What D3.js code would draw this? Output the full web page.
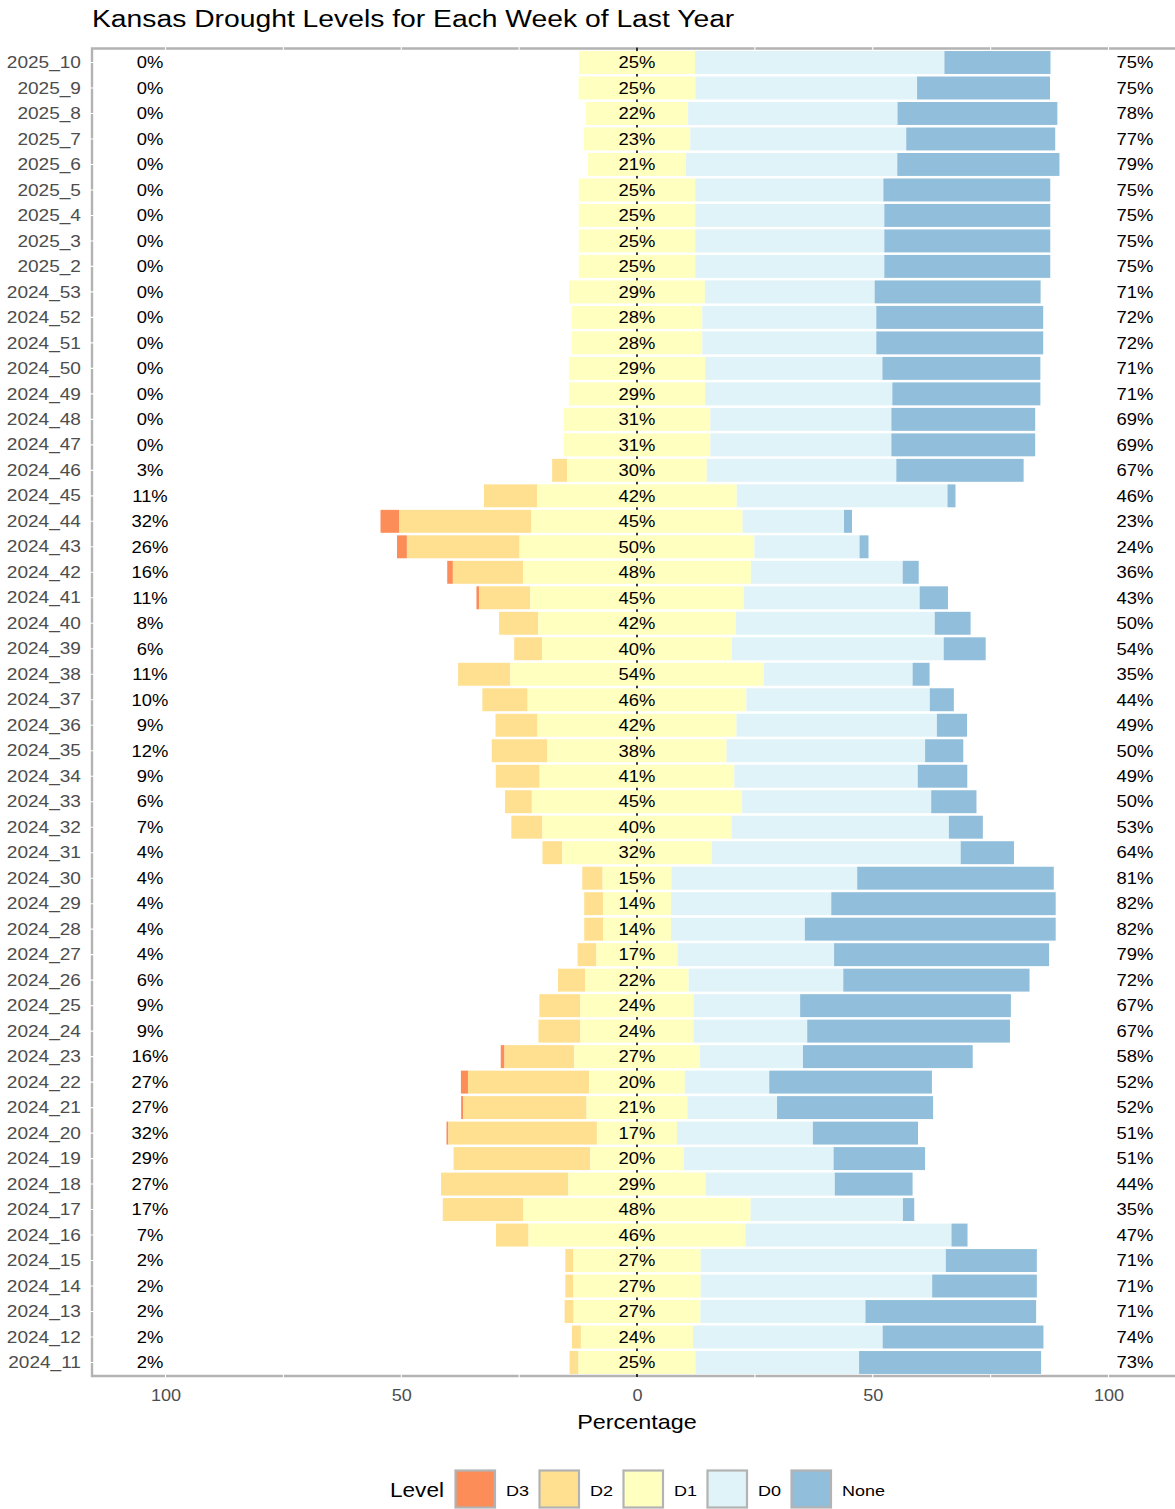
<!DOCTYPE html>
<html>
<head>
<meta charset="utf-8">
<script src="https://cdn.jsdelivr.net/npm/d3@7/dist/d3.min.js"></script>
<style>
	body { margin: 0; background: #fff; }
	svg { display: block; font-family: "Liberation Sans", Arial, Helvetica, sans-serif; }
</style>
</head>
<body>
<div id="chart"></div>
<script>
///////////////////////////////////////////////////////////////////////////
//////////////////////////// data /////////////////////////////////////////
///////////////////////////////////////////////////////////////////////////

// weeks, top to bottom
const weeks = [
	"2025_10", "2025_9", "2025_8", "2025_7", "2025_6", "2025_5", "2025_4", "2025_3", "2025_2",
	"2024_53", "2024_52", "2024_51", "2024_50", "2024_49", "2024_48", "2024_47", "2024_46",
	"2024_45", "2024_44", "2024_43", "2024_42", "2024_41", "2024_40", "2024_39", "2024_38",
	"2024_37", "2024_36", "2024_35", "2024_34", "2024_33", "2024_32", "2024_31", "2024_30",
	"2024_29", "2024_28", "2024_27", "2024_26", "2024_25", "2024_24", "2024_23", "2024_22",
	"2024_21", "2024_20", "2024_19", "2024_18", "2024_17", "2024_16", "2024_15", "2024_14",
	"2024_13", "2024_12", "2024_11"
];

// percent of area in each level (same order as weeks)
const d3Pct = [
	0, 0, 0, 0, 0, 0, 0, 0, 0,
	0, 0, 0, 0, 0, 0, 0, 0,
	0, 4.0, 2.1, 1.2, 0.6, 0, 0, 0,
	0, 0, 0, 0, 0, 0, 0, 0,
	0, 0, 0, 0, 0, 0, 0.8, 1.5,
	0.4, 0.4, 0, 0, 0, 0, 0, 0,
	0, 0, 0
];
const d2Pct = [
	0, 0, 0, 0, 0, 0, 0, 0, 0,
	0, 0, 0, 0, 0, 0, 0, 3.2,
	11.3, 28.0, 23.9, 14.9, 10.8, 8.3, 5.9, 11.1,
	9.6, 8.9, 11.8, 9.3, 5.7, 6.6, 4.2, 4.3,
	4.0, 4.0, 4.0, 5.8, 8.7, 8.9, 14.8, 25.7,
	26.2, 31.5, 29.0, 27.0, 17.1, 6.9, 1.7, 1.7,
	1.9, 1.9, 1.9
];
const d1Pct = [
	24.6, 24.8, 21.7, 22.6, 20.8, 24.7, 24.7, 24.7, 24.7,
	28.8, 27.7, 27.7, 28.9, 28.9, 31.1, 31.1, 29.6,
	42.3, 44.8, 49.8, 48.3, 45.3, 41.9, 40.3, 53.7,
	46.4, 42.2, 38.0, 41.3, 44.6, 40.1, 31.7, 14.6,
	14.4, 14.4, 17.2, 21.9, 24.0, 24.0, 26.6, 20.3,
	21.4, 17.0, 19.8, 29.1, 48.2, 46.0, 27.0, 27.0,
	26.9, 23.8, 24.8
];
const d0Pct = [
	52.9, 47.0, 44.4, 45.8, 44.8, 39.9, 40.1, 40.1, 40.1,
	36.0, 36.9, 36.9, 37.6, 39.7, 38.4, 38.4, 40.2,
	44.7, 21.5, 22.3, 32.2, 37.3, 42.2, 44.9, 31.6,
	38.9, 42.5, 42.1, 38.9, 40.1, 46.1, 52.8, 39.4,
	34.0, 28.4, 33.2, 32.8, 22.6, 24.1, 21.9, 17.9,
	19.0, 28.8, 31.8, 27.4, 32.3, 43.7, 52.0, 49.1,
	35.0, 40.2, 34.7
];
const nonePct = [
	22.5, 28.2, 33.9, 31.6, 34.4, 35.4, 35.2, 35.2, 35.2,
	35.2, 35.4, 35.4, 33.5, 31.4, 30.5, 30.5, 27.0,
	1.7, 1.7, 1.9, 3.4, 6.0, 7.6, 8.9, 3.6,
	5.1, 6.4, 8.1, 10.5, 9.6, 7.2, 11.3, 41.7,
	47.6, 53.2, 45.6, 39.5, 44.7, 43.0, 36.0, 34.5,
	33.1, 22.3, 19.4, 16.5, 2.4, 3.4, 19.3, 22.2,
	36.2, 34.1, 38.6
];

const levels = ["D3", "D2", "D1", "D0", "None"];
const levelColors = ["#fc8d59", "#fee090", "#ffffbf", "#e0f3f8", "#91bfdb"];
const xTicks = [-100, -50, 0, 50, 100];
const gridTicks = [-125, -100, -75, -50, -25, 0, 25, 50, 75, 100, 125];

///////////////////////////////////////////////////////////////////////////
//////////////////////////// Set up svg ///////////////////////////////////
///////////////////////////////////////////////////////////////////////////

const width = 1175;
const height = 1509;
const panel = { left: 92, right: 1182, top: 48.5, bottom: 1376 };

const svg = d3
	.select("#chart")
	.append("svg")
	.attr("width", width)
	.attr("height", height);

const xScale = d3.scaleLinear().domain([-100, 100]).range([165.5, 1108.5]);
const yScale = d3.scalePoint().domain(weeks).range([62.5, 1362.5]);
const barH = yScale.step() * 0.9;

// stack each row around the middle of D1
const rows = weeks.map((w, i) => {
	const half = d1Pct[i] / 2;
	const segs = [
		{ level: "D3", x0: -half - d2Pct[i] - d3Pct[i], x1: -half - d2Pct[i] },
		{ level: "D2", x0: -half - d2Pct[i], x1: -half },
		{ level: "D1", x0: -half, x1: half },
		{ level: "D0", x0: half, x1: half + d0Pct[i] },
		{ level: "None", x0: half + d0Pct[i], x1: half + d0Pct[i] + nonePct[i] }
	];
	return {
		week: w,
		segs: segs.filter((s) => s.x1 - s.x0 > 0),
		left: Math.round(d3Pct[i] + d2Pct[i]),
		mid: Math.round(d1Pct[i]),
		right: Math.round(d0Pct[i] + nonePct[i])
	};
});

const color = d3.scaleOrdinal().domain(levels).range(levelColors);

// the original text is a bit wider than Liberation Sans, stretch it
function stretchedText(parent, x, y, sx) {
	return parent.append("text")
		.attr("transform", `translate(${x},${y}) scale(${sx},1)`);
}

///////////////////////////////////////////////////////////////////////////
//////////////////////////// panel ////////////////////////////////////////
///////////////////////////////////////////////////////////////////////////

// border (left, top, bottom)
svg.append("path")
	.attr("d", `M${panel.right},${panel.top}H${panel.left}V${panel.bottom}H${panel.right}`)
	.attr("fill", "none")
	.attr("stroke", "#b3b3b3")
	.attr("stroke-width", 2.4);

// white grid lines, only show where they cross the border
svg.append("g")
	.selectAll("line")
	.data(gridTicks)
	.join("line")
	.attr("x1", (d) => xScale(d))
	.attr("x2", (d) => xScale(d))
	.attr("y1", panel.top - 2)
	.attr("y2", panel.bottom + 2)
	.attr("stroke", "#fff")
	.attr("stroke-width", 1.1);

svg.append("g")
	.selectAll("line")
	.data(weeks)
	.join("line")
	.attr("x1", panel.left - 2)
	.attr("x2", panel.right)
	.attr("y1", (d) => yScale(d))
	.attr("y2", (d) => yScale(d))
	.attr("stroke", "#fff")
	.attr("stroke-width", 1.1);

// zero line sits under the bars
svg.append("line")
	.attr("x1", xScale(0))
	.attr("x2", xScale(0))
	.attr("y1", panel.top - 1)
	.attr("y2", panel.bottom + 1)
	.attr("stroke", "#000")
	.attr("stroke-width", 1.6);

///////////////////////////////////////////////////////////////////////////
//////////////////////////// bars /////////////////////////////////////////
///////////////////////////////////////////////////////////////////////////

const rowG = svg.append("g")
	.selectAll("g")
	.data(rows)
	.join("g")
	.attr("transform", (d) => `translate(0,${yScale(d.week)})`);

rowG.selectAll("rect")
	.data((d) => d.segs)
	.join("rect")
	.attr("x", (d) => xScale(d.x0))
	.attr("width", (d) => xScale(d.x1) - xScale(d.x0))
	.attr("y", -barH / 2)
	.attr("height", barH)
	.attr("fill", (d) => color(d.level));

// percent labels
const labelStyle = (sel) => sel
	.attr("dy", "0.36em")
	.attr("text-anchor", "middle")
	.attr("font-size", 16)
	.attr("fill", "#000");

rowG.each(function (d) {
	const g = d3.select(this);
	stretchedText(g, 150, 0, 1.15).text(d.left + "%").call(labelStyle);
	stretchedText(g, xScale(0), 0, 1.15).text(d.mid + "%").call(labelStyle);
	stretchedText(g, 1135, 0, 1.15).text(d.right + "%").call(labelStyle);
});

///////////////////////////////////////////////////////////////////////////
//////////////////////////// axes /////////////////////////////////////////
///////////////////////////////////////////////////////////////////////////

const yAxis = svg.append("g")
	.attr("transform", `translate(${panel.left - 1},0)`)
	.call(d3.axisLeft(yScale).tickSize(0).tickPadding(8.5));
yAxis.select(".domain").remove();
yAxis.selectAll("text")
	.attr("font-size", 16)
	.attr("font-family", "Liberation Sans, Arial, sans-serif")
	.attr("fill", "#4d4d4d")
	.attr("transform", "scale(1.19,1)");

const xAxis = svg.append("g")
	.attr("transform", `translate(0,${panel.bottom})`)
	.call(d3.axisBottom(xScale).tickValues(xTicks).tickFormat((d) => Math.abs(d)).tickSize(0).tickPadding(14));
xAxis.select(".domain").remove();
xAxis.selectAll("text")
	.attr("font-size", 16)
	.attr("font-family", "Liberation Sans, Arial, sans-serif")
	.attr("fill", "#4d4d4d")
	.attr("transform", "scale(1.13,1)");

stretchedText(svg, xScale(0), 1429, 1.17)
	.attr("text-anchor", "middle")
	.attr("font-size", 20)
	.text("Percentage");

// title
stretchedText(svg, 92, 27, 1.23)
	.attr("font-size", 23)
	.text("Kansas Drought Levels for Each Week of Last Year");

///////////////////////////////////////////////////////////////////////////
//////////////////////////// legend ///////////////////////////////////////
///////////////////////////////////////////////////////////////////////////

const legend = svg.append("g").attr("transform", "translate(0,1470)");

stretchedText(legend, 390, 27, 1.13)
	.attr("font-size", 20)
	.text("Level");

const item = legend.selectAll(".item")
	.data(levels)
	.join("g")
	.attr("class", "item")
	.attr("transform", (d, i) => `translate(${455 + i * 84},0)`);

item.append("rect")
	.attr("x", 0.5)
	.attr("y", 0.5)
	.attr("width", 39.5)
	.attr("height", 37)
	.attr("fill", (d) => color(d))
	.attr("stroke", "#b3b3b3")
	.attr("stroke-width", 2.2);

item.each(function (d) {
	stretchedText(d3.select(this), 51, 26, 1.2)
		.attr("font-size", 15)
		.text(d);
});
</script>
</body>
</html>
